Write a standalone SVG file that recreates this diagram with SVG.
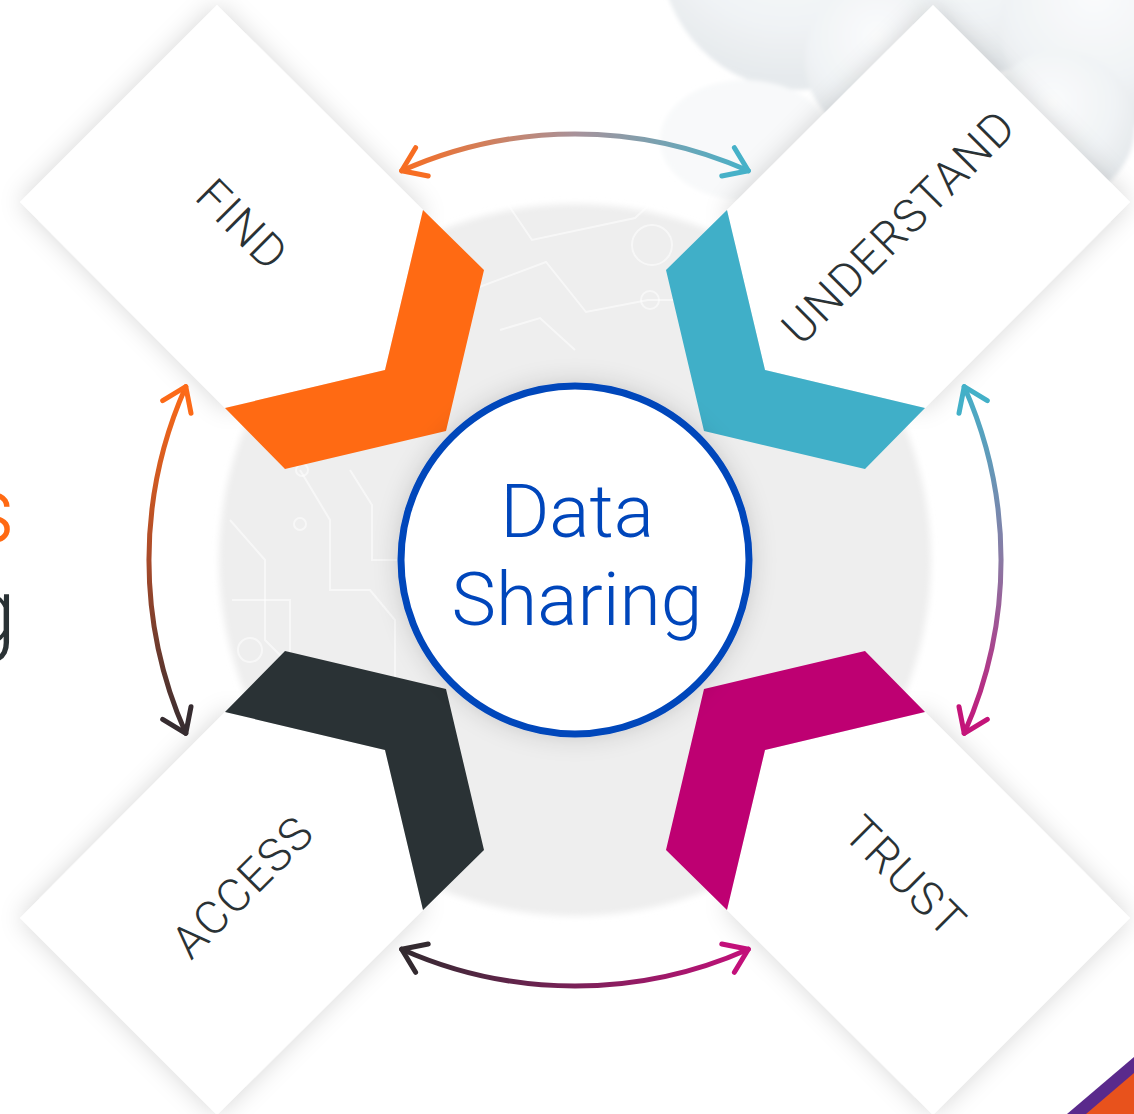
<svg xmlns="http://www.w3.org/2000/svg" width="1134" height="1114" viewBox="0 0 1134 1114">
<style>
.lbl{font-family:Roboto,"Liberation Sans",sans-serif;font-weight:300;font-size:46px;fill:#2a3235;text-anchor:middle;letter-spacing:1.5px}
.card{fill:#ffffff}
.arc{fill:none;stroke-width:5;stroke-linecap:round}
.head{fill:none;stroke-width:5;stroke-linecap:round;stroke-linejoin:round}
.trace{fill:none;stroke:#ffffff;stroke-width:2;opacity:0.55}
</style>
<defs>
<filter id="shadow" x="-30%" y="-30%" width="160%" height="160%">
<feDropShadow dx="0" dy="0" stdDeviation="12" flood-color="#000" flood-opacity="0.16"/>
</filter>
<filter id="soft" x="-20%" y="-20%" width="140%" height="140%">
<feGaussianBlur stdDeviation="3"/>
</filter>
<filter id="cloudBlur" x="-20%" y="-20%" width="140%" height="140%">
<feGaussianBlur stdDeviation="2"/>
</filter>
<radialGradient id="cloudG" cx="45%" cy="35%" r="60%">
<stop offset="0" stop-color="#fafbfc"/>
<stop offset="0.7" stop-color="#f0f3f5"/>
<stop offset="1" stop-color="#e6eaed"/>
</radialGradient>
<linearGradient id="gTop" gradientUnits="userSpaceOnUse" x1="402" y1="0" x2="748" y2="0">
<stop offset="0" stop-color="#f76d22"/>
<stop offset="0.5" stop-color="#a8929a"/>
<stop offset="1" stop-color="#46b1c8"/>
</linearGradient>
<linearGradient id="gLeft" gradientUnits="userSpaceOnUse" x1="0" y1="387" x2="0" y2="733">
<stop offset="0" stop-color="#fc6a18"/>
<stop offset="0.5" stop-color="#a84a2a"/>
<stop offset="1" stop-color="#362c30"/>
</linearGradient>
<linearGradient id="gRight" gradientUnits="userSpaceOnUse" x1="0" y1="387" x2="0" y2="733">
<stop offset="0" stop-color="#43b0c8"/>
<stop offset="0.5" stop-color="#8a7aa4"/>
<stop offset="1" stop-color="#c41479"/>
</linearGradient>
<linearGradient id="gBottom" gradientUnits="userSpaceOnUse" x1="402" y1="0" x2="748" y2="0">
<stop offset="0" stop-color="#332a30"/>
<stop offset="0.5" stop-color="#7a2158"/>
<stop offset="1" stop-color="#c2107a"/>
</linearGradient>
<path id="cardShape" d="M-358,-555 L-152,-350 L-190,-190 L-350,-152 L-555,-358 Z"/>
<path id="chevShape" d="M-152,-350 L-91,-290 L-129,-129 L-290,-91 L-350,-152 L-190,-190 Z"/>
</defs>

<rect x="0" y="0" width="1134" height="1114" fill="#ffffff"/>

<g id="clouds" filter="url(#cloudBlur)">
<circle cx="800" cy="-50" r="140" fill="url(#cloudG)"/>
<circle cx="975" cy="-45" r="120" fill="url(#cloudG)"/>
<circle cx="1105" cy="25" r="105" fill="url(#cloudG)"/>
<circle cx="885" cy="60" r="80" fill="url(#cloudG)"/>
<circle cx="1060" cy="125" r="75" fill="url(#cloudG)"/>
<ellipse cx="745" cy="140" rx="85" ry="60" fill="#f8f9fa"/>
</g>

<g id="disc">
<circle cx="575" cy="560" r="356" fill="#eeeeee" filter="url(#soft)"/>
<polyline class="trace" points="505,200 532,240 635,218 660,195"/>
<polyline class="trace" points="474,289 546,262 586,312 648,300 700,300"/>
<circle class="trace" cx="652" cy="245" r="20"/>
<circle class="trace" cx="650" cy="300" r="9"/>
<polyline class="trace" points="500,330 540,318 575,350"/>
<polyline class="trace" points="230,520 265,560 265,640 300,675 300,760"/>
<polyline class="trace" points="300,470 330,520 330,590 370,590 395,620 395,700"/>
<polyline class="trace" points="232,600 290,600 290,690 340,740 400,740"/>
<polyline class="trace" points="240,700 275,740 275,800"/>
<circle class="trace" cx="302" cy="470" r="6"/>
<circle class="trace" cx="300" cy="524" r="6"/>
<circle class="trace" cx="250" cy="650" r="12"/>
<polyline class="trace" points="350,470 372,505 372,560 420,560"/>
</g>

<g id="node-find">
<use href="#cardShape" class="card" filter="url(#shadow)" transform="translate(575,560)"/>
<use href="#chevShape" fill="#ff6a13" transform="translate(575,560)"/>
<text class="lbl" transform="translate(243,224) rotate(45)" x="0" y="17">FIND</text>
</g>

<g id="node-understand">
<use href="#cardShape" class="card" filter="url(#shadow)" transform="translate(575,560) scale(-1,1)"/>
<use href="#chevShape" fill="#40afc8" transform="translate(575,560) scale(-1,1)"/>
<text class="lbl" transform="translate(898,226) rotate(-45)" x="0" y="17">UNDERSTAND</text>
</g>

<g id="node-access">
<use href="#cardShape" class="card" filter="url(#shadow)" transform="translate(575,560) scale(1,-1)"/>
<use href="#chevShape" fill="#2a3235" transform="translate(575,560) scale(1,-1)"/>
<text class="lbl" transform="translate(242,886) rotate(-45)" x="0" y="17">ACCESS</text>
</g>

<g id="node-trust">
<use href="#cardShape" class="card" filter="url(#shadow)" transform="translate(575,560) scale(-1,-1)"/>
<use href="#chevShape" fill="#be0072" transform="translate(575,560) scale(-1,-1)"/>
<text class="lbl" transform="translate(906,876) rotate(45)" x="0" y="17">TRUST</text>
</g>

<g id="node-data-sharing">
<circle cx="575" cy="560" r="174" fill="#ffffff" stroke="#0046bb" stroke-width="7" filter="url(#shadow)"/>
<text x="577" y="537" font-family="Roboto, 'Liberation Sans', sans-serif" font-weight="300" font-size="75" fill="#0046bb" text-anchor="middle">Data</text>
<text x="577" y="625" font-family="Roboto, 'Liberation Sans', sans-serif" font-weight="300" font-size="75" fill="#0046bb" text-anchor="middle">Sharing</text>
</g>

<g id="connectors">
<path class="arc" stroke="url(#gTop)" d="M401.7,170.8 A426,426 0 0 1 748.3,170.8"/>
<path class="head" stroke="#f76d22" d="M415.6,147.7 L401.7,170.8 L428.2,176"/>
<path class="head" stroke="#46b1c8" d="M734.4,147.7 L748.3,170.8 L721.8,176"/>

<path class="arc" stroke="url(#gLeft)" d="M185.8,733.3 A426,426 0 0 1 185.8,386.7"/>
<path class="head" stroke="#fc6a18" d="M162.7,400.6 L185.8,386.7 L191,413.2"/>
<path class="head" stroke="#362c30" d="M162.7,719.4 L185.8,733.3 L191,706.8"/>

<path class="arc" stroke="url(#gRight)" d="M964.2,386.7 A426,426 0 0 1 964.2,733.3"/>
<path class="head" stroke="#43b0c8" d="M987.3,400.6 L964.2,386.7 L959,413.2"/>
<path class="head" stroke="#c41479" d="M987.3,719.4 L964.2,733.3 L959,706.8"/>

<path class="arc" stroke="url(#gBottom)" d="M748.3,949.2 A426,426 0 0 1 401.7,949.2"/>
<path class="head" stroke="#332a30" d="M415.6,972.3 L401.7,949.2 L428.2,944"/>
<path class="head" stroke="#c2107a" d="M734.4,972.3 L748.3,949.2 L721.8,944"/>
</g>

<g id="edge-text">
<text x="15" y="542" font-family="Roboto, 'Liberation Sans', sans-serif" font-weight="300" font-size="92" fill="#ff6a13" text-anchor="end">s</text>
<text x="16" y="643" font-family="Roboto, 'Liberation Sans', sans-serif" font-weight="300" font-size="92" fill="#2a3235" text-anchor="end">g</text>
</g>

<g id="corner-shape">
<polygon points="1134,1057 1134,1114 1067,1114" fill="#5a2a8c"/>
<polygon points="1134,1073 1134,1114 1086,1114" fill="#e8521c"/>
</g>
</svg>
